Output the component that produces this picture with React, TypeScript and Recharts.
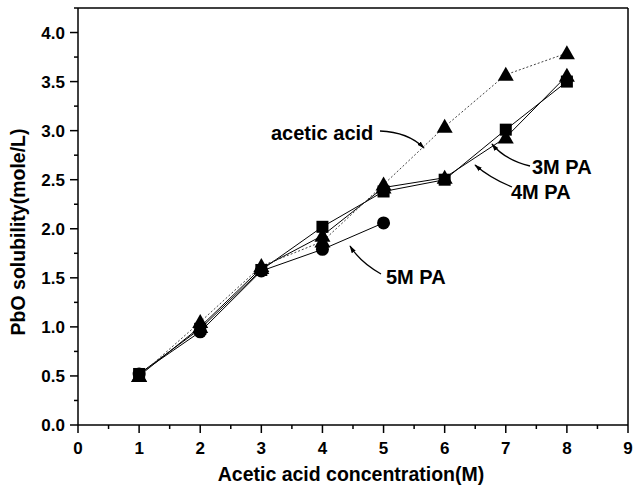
import React from "react";
import {
  LineChart,
  Line,
  XAxis,
  YAxis,
  ReferenceLine,
  Customized,
} from "recharts";

// acetic acid concentration (M)
const concentration = [1, 2, 3, 4, 5, 6, 7, 8];
// PbO solubility (mole/L) per solvent
const aceticAcid = [0.5, 1.05, 1.62, 1.87, 2.45, 3.04, 3.57, 3.79];
const pa3M = [0.52, 0.98, 1.58, 2.02, 2.38, 2.5, 3.01, 3.5];
const pa4M = [0.5, 1.0, 1.6, 1.93, 2.42, 2.52, 2.93, 3.56];
const pa5M = [0.52, 0.95, 1.57, 1.79, 2.06];

const xMajorTicks = [0, 1, 2, 3, 4, 5, 6, 7, 8, 9];
const yMajorTicks = [0, 0.5, 1, 1.5, 2, 2.5, 3, 3.5, 4];

const xTicks = xMajorTicks.flatMap((t, i) => (i < xMajorTicks.length - 1 ? [t, t + 0.5] : [t]));
const yTicks = yMajorTicks.flatMap((t) => [t, t + 0.25]);

const data = concentration.map((c, i) => ({
  c,
  acetic: aceticAcid[i],
  pa3: pa3M[i],
  pa4: pa4M[i],
  pa5: pa5M[i] ?? null,
}));

const FONT = "'Liberation Sans', Arial, sans-serif";

const XTick = (props: any) => {
  const { x, y, payload } = props;
  const major = Number.isInteger(payload.value);
  return (
    <g>
      <line x1={x} y1={y} x2={x} y2={y + (major ? 8 : 4)} stroke="#000" strokeWidth={1.5} />
      {major && (
        <text x={x} y={y + 29} textAnchor="middle" fontFamily={FONT} fontWeight="bold" fontSize={17} fill="#000">
          {payload.value}
        </text>
      )}
    </g>
  );
};

const YTick = (props: any) => {
  const { x, y, payload } = props;
  const major = Math.abs(payload.value * 2 - Math.round(payload.value * 2)) < 1e-6;
  return (
    <g>
      <line x1={x} y1={y} x2={x - (major ? 8 : 4)} y2={y} stroke="#000" strokeWidth={1.5} />
      {major && (
        <text x={x - 13} y={y + 6} textAnchor="end" fontFamily={FONT} fontWeight="bold" fontSize={17} fill="#000">
          {payload.value.toFixed(1)}
        </text>
      )}
    </g>
  );
};

const Triangle = (props: any) => {
  const { cx, cy } = props;
  if (cx == null || cy == null) return null;
  return <path d={`M${cx},${cy - 8} L${cx + 8},${cy + 6} L${cx - 8},${cy + 6} Z`} fill="#000" />;
};

const Square = (props: any) => {
  const { cx, cy } = props;
  if (cx == null || cy == null) return null;
  return <rect x={cx - 6} y={cy - 6} width={12} height={12} fill="#000" />;
};

const Circle = (props: any) => {
  const { cx, cy } = props;
  if (cx == null || cy == null) return null;
  return <circle cx={cx} cy={cy} r={6.5} fill="#000" />;
};

const Annotations = () => (
  <g fontFamily={FONT} fontWeight="bold" fill="#000">
    <defs>
      <marker id="ah" viewBox="0 0 10 10" refX="9" refY="5" markerWidth="6" markerHeight="6" orient="auto">
        <path d="M0,2 L10,5 L0,8 Z" fill="#000" />
      </marker>
    </defs>
    <g fontSize={20}>
      <text x={271} y={140}>acetic acid</text>
      <text x={532} y={174}>3M PA</text>
      <text x={511} y={199}>4M PA</text>
      <text x={386} y={284}>5M PA</text>
    </g>
    <path d="M380,131 Q408,132 424,148" fill="none" stroke="#000" strokeWidth={1.3} markerEnd="url(#ah)" />
    <path d="M530,166 Q505,160 492,144" fill="none" stroke="#000" strokeWidth={1.3} markerEnd="url(#ah)" />
    <path d="M512,187 Q490,178 475,165" fill="none" stroke="#000" strokeWidth={1.3} markerEnd="url(#ah)" />
    <path d="M381,274 Q360,262 350,246" fill="none" stroke="#000" strokeWidth={1.3} markerEnd="url(#ah)" />
    <g fontSize={19.5}>
      <text
        x={18}
        y={232}
        transform="rotate(-90 18 232)"
        textAnchor="middle"
        dominantBaseline="central"
      >
        PbO solubility(mole/L)
      </text>
      <text x={351} y={481} textAnchor="middle">
        Acetic acid concentration(M)
      </text>
    </g>
  </g>
);

export default function App() {
  return (
    <div style={{ position: "absolute", left: 0, top: 0, width: 633, height: 494, background: "#fff" }}>
      <LineChart width={633} height={494} data={data} margin={{ top: 8, right: 5, bottom: 0, left: 0 }}>
        <XAxis
          type="number"
          dataKey="c"
          domain={[0, 9]}
          ticks={xTicks}
          interval={0}
          tickSize={0}
          tickMargin={0}
          tickLine={false}
          tick={<XTick />}
          height={69}
          stroke="#000"
          strokeWidth={1.5}
        />
        <YAxis
          type="number"
          domain={[0, 4.25]}
          ticks={yTicks}
          interval={0}
          tickSize={0}
          tickMargin={0}
          tickLine={false}
          tick={<YTick />}
          width={78}
          stroke="#000"
          strokeWidth={1.5}
        />
        <ReferenceLine y={4.25} stroke="#000" strokeWidth={1.5} />
        <ReferenceLine x={9} stroke="#000" strokeWidth={1.5} />
        <Line type="linear" dataKey="pa5" stroke="#000" strokeWidth={1} dot={<Circle />} isAnimationActive={false} />
        <Line type="linear" dataKey="pa3" stroke="#000" strokeWidth={1} dot={<Square />} isAnimationActive={false} />
        <Line type="linear" dataKey="pa4" stroke="#000" strokeWidth={1} dot={<Triangle />} isAnimationActive={false} />
        <Line
          type="linear"
          dataKey="acetic"
          stroke="#444"
          strokeWidth={1}
          strokeDasharray="2 2"
          dot={<Triangle />}
          isAnimationActive={false}
        />
        <Customized component={Annotations} />
      </LineChart>
    </div>
  );
}
